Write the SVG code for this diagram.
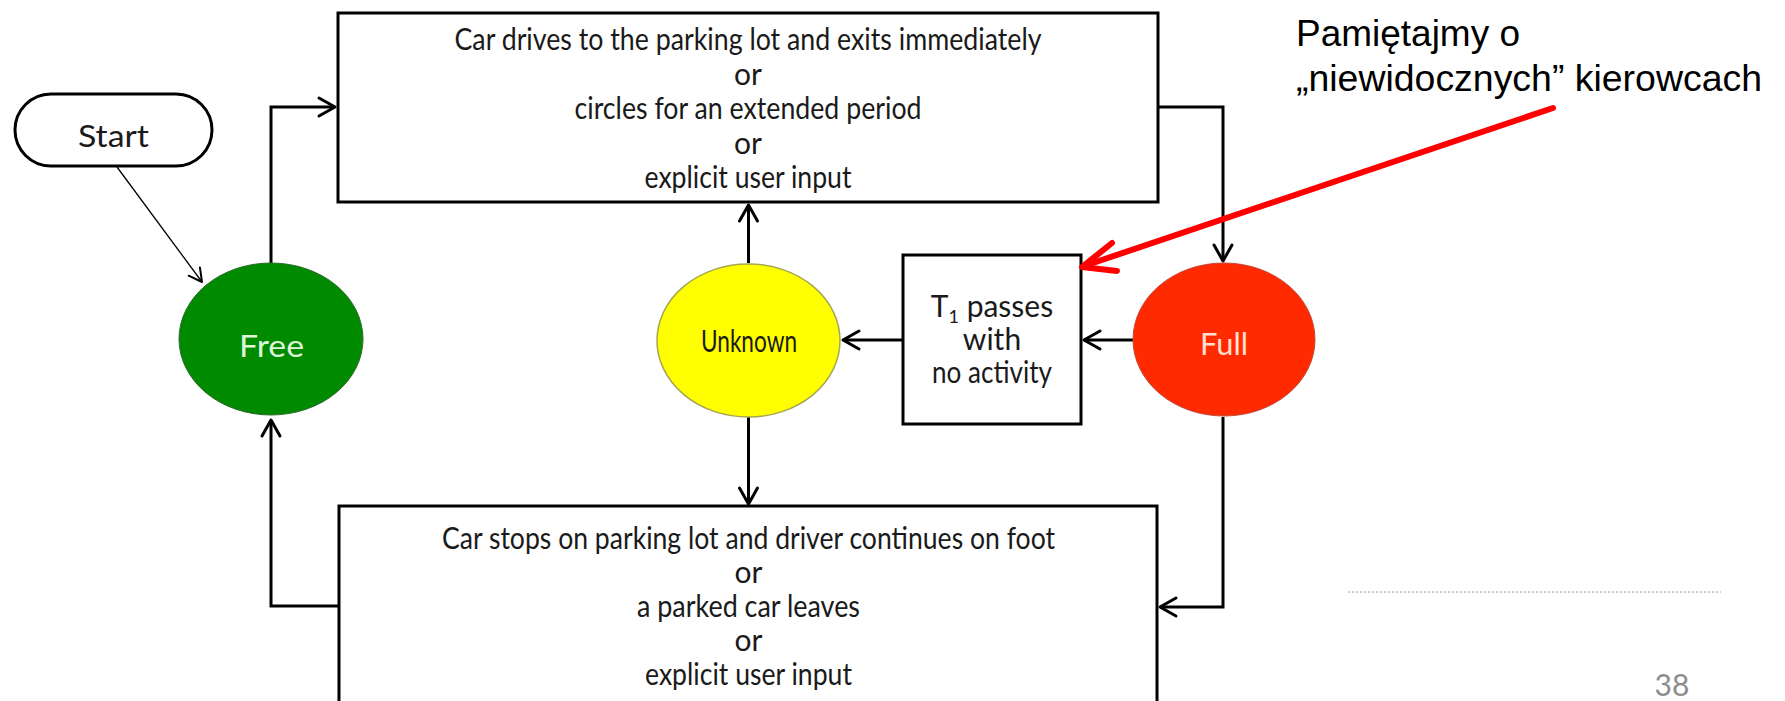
<svg xmlns="http://www.w3.org/2000/svg" width="1785" height="701" viewBox="0 0 1785 701">
  <defs>
    <style>
      .box { fill: #ffffff; stroke: #000000; stroke-width: 3; }
      .lbl { font-family: Lato, "Liberation Sans", sans-serif; font-size: 30px; fill: #1a1a1a; text-anchor: middle; }
      .conn { fill: none; stroke: #000000; stroke-width: 3; }
      .thin { fill: none; stroke: #000000; stroke-width: 1.3; }
      .note { font-family: "Liberation Sans", "DejaVu Sans", sans-serif; font-size: 36px; fill: #000000; }
    </style>
    <marker id="arrow" markerUnits="userSpaceOnUse" viewBox="-20 -12 24 24" markerWidth="24" markerHeight="24" refX="0" refY="0" orient="auto" overflow="visible">
      <path d="M-16,-9 L0,0 L-16,9" fill="none" stroke="#000000" stroke-width="3" stroke-linejoin="round" stroke-linecap="round"/>
    </marker>
    <marker id="arrow-thin" markerUnits="userSpaceOnUse" viewBox="-20 -12 24 24" markerWidth="24" markerHeight="24" refX="0" refY="0" orient="auto" overflow="visible">
      <path d="M-13,-7 L0,0 L-13,7" fill="none" stroke="#000000" stroke-width="2" stroke-linejoin="round" stroke-linecap="round"/>
    </marker>
  </defs>

  <rect x="0" y="0" width="1785" height="701" fill="#ffffff"/>

  <!-- connectors -->
  <g id="connectors">
    <path class="thin" d="M117,167 L202,282" marker-end="url(#arrow-thin)"/>
    <path class="conn" d="M271,263 V107 H335" marker-end="url(#arrow)"/>
    <path class="conn" d="M748.5,263 V205" marker-end="url(#arrow)"/>
    <path class="conn" d="M1158,107 H1223 V261" marker-end="url(#arrow)"/>
    <path class="conn" d="M1133,340 H1084" marker-end="url(#arrow)"/>
    <path class="conn" d="M903,340 H843" marker-end="url(#arrow)"/>
    <path class="conn" d="M748.5,417 V504" marker-end="url(#arrow)"/>
    <path class="conn" d="M1223,417 V607 H1160" marker-end="url(#arrow)"/>
    <path class="conn" d="M339,606 H271 V420" marker-end="url(#arrow)"/>
  </g>

  <!-- start terminal -->
  <g id="start">
    <rect class="box" x="15" y="94" width="197" height="72" rx="36" ry="36"/>
    <text class="lbl" x="113.5" y="147" font-size="36" textLength="71" lengthAdjust="spacingAndGlyphs">Start</text>
  </g>

  <!-- upper transition box -->
  <g id="box-enter">
    <rect class="box" x="338" y="13" width="820" height="189"/>
    <text class="lbl" x="748" y="50" textLength="587" lengthAdjust="spacingAndGlyphs">Car drives to the parking lot and exits immediately</text>
    <text class="lbl" x="748" y="84.5">or</text>
    <text class="lbl" x="748" y="119" textLength="347" lengthAdjust="spacingAndGlyphs">circles for an extended period</text>
    <text class="lbl" x="748" y="153.5">or</text>
    <text class="lbl" x="748" y="188" textLength="207" lengthAdjust="spacingAndGlyphs">explicit user input</text>
  </g>

  <!-- lower transition box -->
  <g id="box-leave">
    <rect class="box" x="339" y="506" width="818" height="230"/>
    <text class="lbl" x="748.5" y="549" textLength="613" lengthAdjust="spacingAndGlyphs">Car stops on parking lot and driver continues on foot</text>
    <text class="lbl" x="748.5" y="583">or</text>
    <text class="lbl" x="748.5" y="617" textLength="223" lengthAdjust="spacingAndGlyphs">a parked car leaves</text>
    <text class="lbl" x="748.5" y="651">or</text>
    <text class="lbl" x="748.5" y="685" textLength="207" lengthAdjust="spacingAndGlyphs">explicit user input</text>
  </g>

  <!-- timeout box -->
  <g id="box-timeout">
    <rect class="box" x="903" y="255" width="178" height="169"/>
    <text class="lbl" x="992" y="317" font-size="28">T<tspan font-size="18" dy="6">1</tspan><tspan dy="-6"> passes</tspan></text>
    <text class="lbl" x="992" y="350" font-size="28">with</text>
    <text class="lbl" x="992" y="383" font-size="28" textLength="120" lengthAdjust="spacingAndGlyphs">no activity</text>
  </g>

  <!-- states -->
  <g id="state-free">
    <ellipse cx="271" cy="339" rx="92" ry="76" fill="#008a00" stroke="#2f6b2f" stroke-width="1"/>
    <text class="lbl" x="271.5" y="357" font-size="35" textLength="65" lengthAdjust="spacingAndGlyphs" style="fill:#dff5d8">Free</text>
  </g>

  <g id="state-unknown">
    <ellipse cx="748.5" cy="340.5" rx="91.5" ry="76.5" fill="#ffff00" stroke="#a6a650" stroke-width="1.5"/>
    <text class="lbl" x="749" y="352" font-size="23" textLength="96" lengthAdjust="spacingAndGlyphs">Unknown</text>
  </g>

  <g id="state-full">
    <ellipse cx="1224" cy="339.5" rx="91" ry="76.5" fill="#ff2a00" stroke="#c04a3a" stroke-width="1"/>
    <text class="lbl" x="1224" y="355" font-size="34" textLength="48" lengthAdjust="spacingAndGlyphs" style="fill:#ffe0d0">Full</text>
  </g>

  <!-- annotation -->
  <g id="annotation">
    <text class="note" x="1296" y="46" textLength="224" lengthAdjust="spacingAndGlyphs">Pamiętajmy o</text>
    <text class="note" x="1296" y="91" textLength="466" lengthAdjust="spacingAndGlyphs">„niewidocznych” kierowcach</text>
    <line x1="1553" y1="108" x2="1084" y2="266" stroke="#ff0000" stroke-width="6" stroke-linecap="round"/>
    <polyline points="1112,243 1082,267 1117,271" fill="none" stroke="#ff0000" stroke-width="6" stroke-linecap="round" stroke-linejoin="round"/>
  </g>

  <!-- page footer -->
  <g id="footer">
    <line x1="1348" y1="592" x2="1721" y2="592" stroke="#9a9a9a" stroke-width="1" stroke-dasharray="2 2"/>
    <text x="1672" y="696" font-family="Lato, 'Liberation Sans', sans-serif" font-size="30" fill="#8c8c8c" text-anchor="middle">38</text>
  </g>
</svg>
